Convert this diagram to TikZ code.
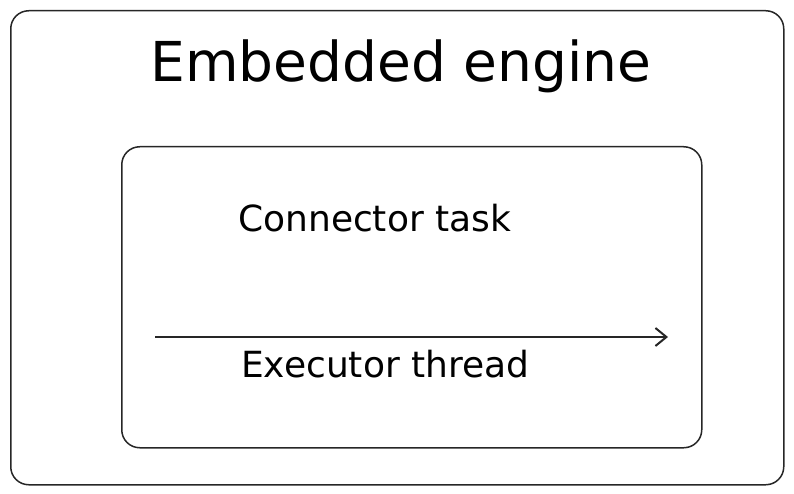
\documentclass[tikz,border=0pt]{standalone}
\usepackage{fontspec}
\setmainfont{DejaVu Sans}
\usetikzlibrary{arrows.meta,positioning}
\begin{document}
\begin{tikzpicture}[
  x=1pt, y=-1pt,
  frame/.style={draw, rounded corners=18pt, line width=1.5pt, color=black!85},
  title/.style={font=\fontsize{55}{64}\selectfont, anchor=base, inner sep=0pt},
  txt/.style={font=\fontsize{36}{42}\selectfont, anchor=base west, inner sep=0pt},
  arr/.style={-{Straight Barb[length=11pt, width=18pt]}, line width=2pt, color=black!85}
]
\useasboundingbox (0,0) rectangle (794,494);
\node[frame, minimum width=773pt, minimum height=474pt, anchor=north west] (engine) at (10,10) {};
\node[frame, minimum width=580pt, minimum height=301pt, anchor=north west] (worker) at (121,146) {};
\node[title] (name) at (401,82) {Embedded engine};
\node[txt] (task) at (238,232) {Connector task};
\node[txt] (thread) at (241,377) {Executor thread};
\coordinate (tstart) at (155,337);
\coordinate (tend) at (668,337);
\draw[arr] (tstart) -- (tend);
\end{tikzpicture}
\end{document}
